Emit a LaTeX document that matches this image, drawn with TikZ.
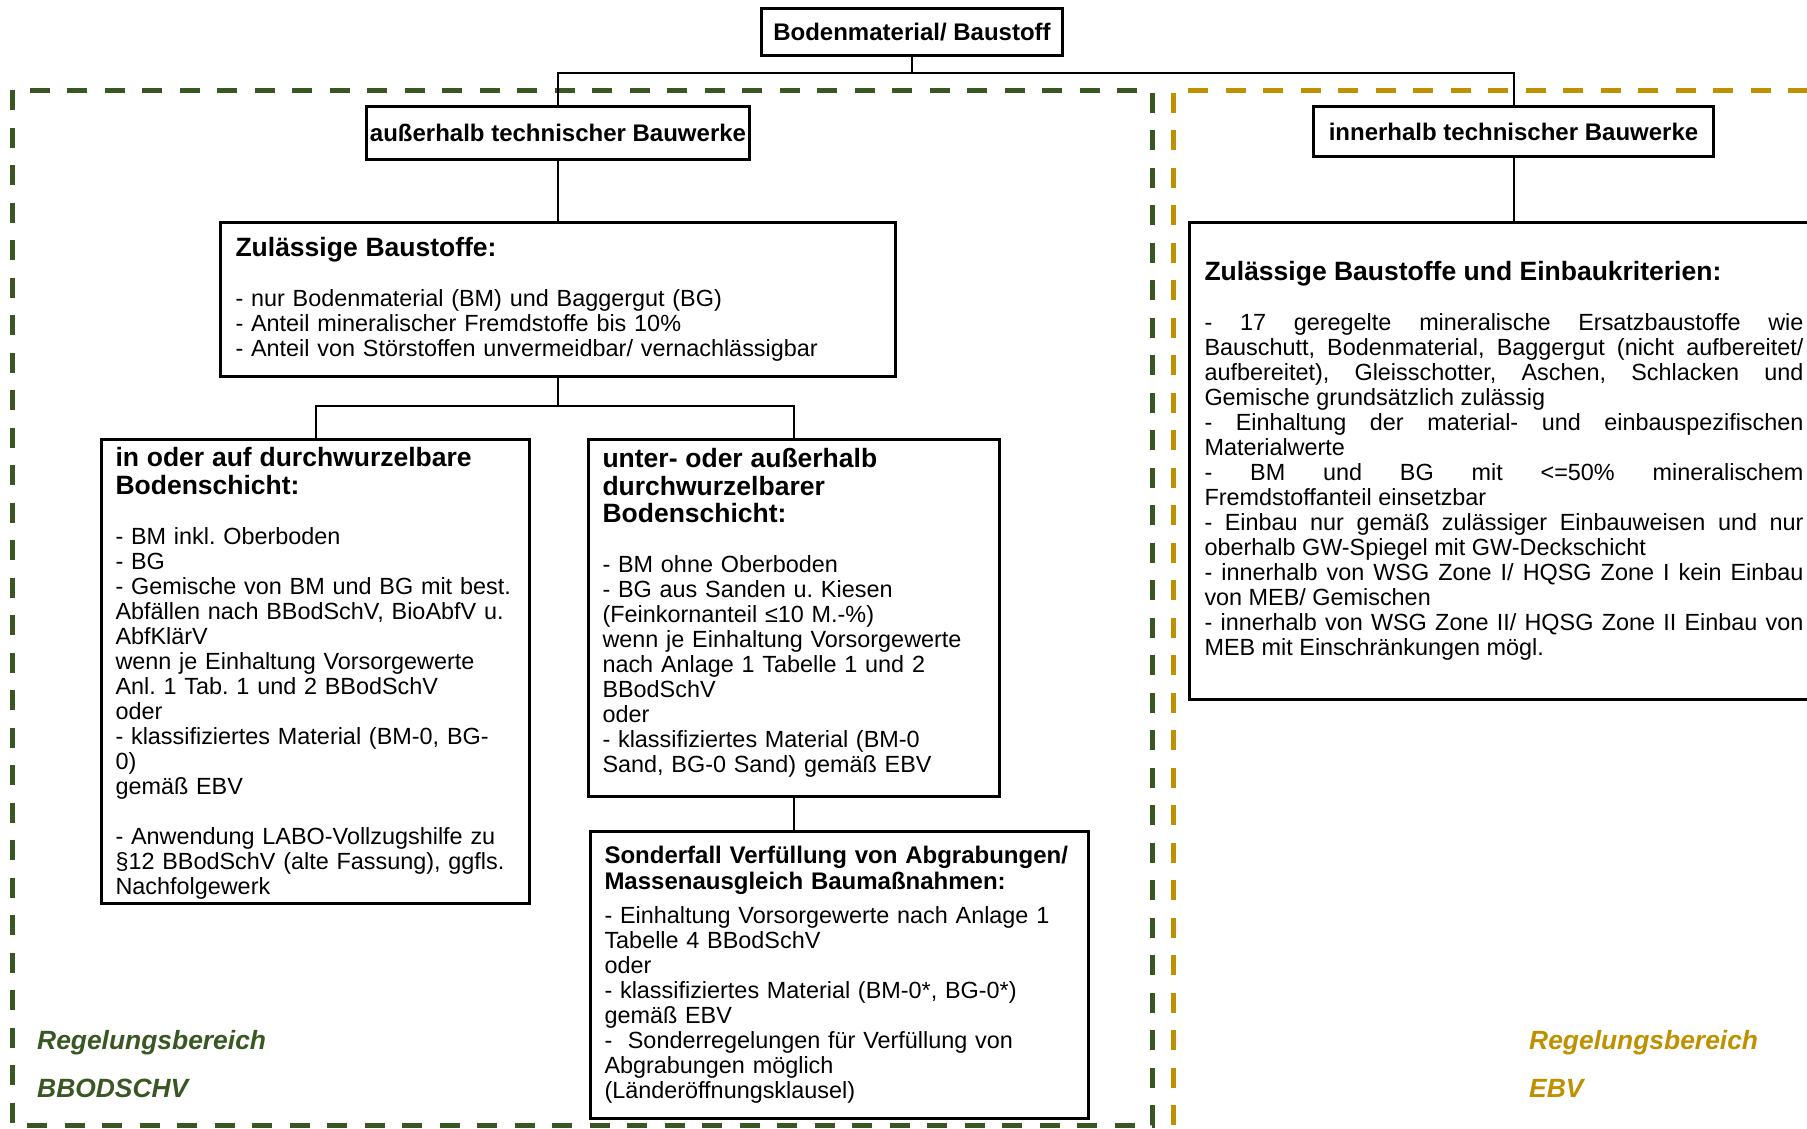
\documentclass[tikz,border=0pt]{standalone}
\usepackage{fontspec}
\setmainfont{Liberation Sans}
\usetikzlibrary{positioning}
\definecolor{bbgreen}{RGB}{56,87,35}
\definecolor{ebvgold}{RGB}{191,144,0}
\setlength\parindent{0pt}
\frenchspacing
\hyphenpenalty=10000
\exhyphenpenalty=10000
\newcommand\bodyfont{\fontsize{23.4}{25}\selectfont}
\newcommand\boxhead[1]{{\fontsize{26.5}{27.7}\selectfont\bfseries #1\par}}
\tikzset{
  box/.style={draw,line width=3pt,fill=white,align=left,inner xsep=14pt,inner ysep=0pt,anchor=north west,font=\bodyfont},
  headbox/.style={draw,line width=3pt,fill=white,inner sep=0pt,anchor=north west,font=\fontsize{24}{25}\selectfont\bfseries},
  link/.style={draw,line width=2pt},
  zone/.style={line width=5pt,dash pattern=on 20pt off 17.5pt},
  zonelabel/.style={anchor=west,inner sep=0pt,font=\fontsize{26.4}{28}\selectfont\bfseries\itshape},
}
\begin{document}
\begin{tikzpicture}[x=1pt,y=-1pt]
\useasboundingbox (0,0) rectangle (1807,1128);
% Regelungsbereiche
\draw[zone,bbgreen] (12,90) rectangle (1152,1125);
\draw[zone,ebvgold] (1173,1125) -- (1173,90) -- (1830,90);
\node[zonelabel,text=bbgreen] (bbtitle) at (37,1043) {Regelungsbereich};
\node[zonelabel,text=bbgreen] (bbname) at (37,1088) {BBODSCHV};
\node[zonelabel,text=ebvgold] (ebvtitle) at (1529,1043) {Regelungsbereich};
\node[zonelabel,text=ebvgold] (ebvname) at (1529,1088) {EBV};
% Kopf
\node[headbox,minimum width=301pt,minimum height=47pt] (top) at (760,7) {Bodenmaterial/ Baustoff};
\node[headbox,minimum width=383pt,minimum height=53pt] (aus) at (365,105) {außerhalb technischer Bauwerke};
\node[headbox,minimum width=400pt,minimum height=50pt] (inn) at (1312,105) {innerhalb technischer Bauwerke};
\coordinate (j1) at (912,73);
\draw[link] (top.south -| j1) -- (j1);
\draw[link] (aus.north) |- (j1) -| (inn.north);
% außerhalb
\node[box,inner xsep=15pt,text width=645pt,minimum height=154pt] (zul) at (219,221) {%
\boxhead{Zulässige Baustoffe:}\vspace{25pt}
- nur Bodenmaterial (BM) und Baggergut (BG)\\
- Anteil mineralischer Fremdstoffe bis 10\%\\
- Anteil von Störstoffen unvermeidbar/ vernachlässigbar};
\draw[link] (aus.south) -- (zul.north);
\node[box,text width=400pt,minimum height=464pt] (lbox) at (100,438) {%
\boxhead{in oder auf durchwurzelbare\\ Bodenschicht:}\vspace{25pt}
- BM inkl. Oberboden\\
- BG\\
- Gemische von BM und BG mit best.\\
Abfällen nach BBodSchV, BioAbfV u.\\
AbfKlärV\\
wenn je Einhaltung Vorsorgewerte\\
Anl. 1 Tab. 1 und 2 BBodSchV\\
oder\\
- klassifiziertes Material (BM-0, BG-\\
0)\\
gemäß EBV\\[25pt]
- Anwendung LABO-Vollzugshilfe zu\\
§12 BBodSchV (alte Fassung), ggfls.\\
Nachfolgewerk\par\vskip-4pt\hrule height0pt width0pt};
\node[box,text width=383pt,minimum height=357pt] (mbox) at (587,438) {%
\boxhead{unter- oder außerhalb\\ durchwurzelbarer\\ Bodenschicht:}\vspace{25pt}
- BM ohne Oberboden\\
- BG aus Sanden u. Kiesen\\
(Feinkornanteil ≤10 M.-\%)\\
wenn je Einhaltung Vorsorgewerte\\
nach Anlage 1 Tabelle 1 und 2\\
BBodSchV\\
oder\\
- klassifiziertes Material (BM-0\\
Sand, BG-0 Sand) gemäß EBV\par\vskip10pt\hrule height0pt width0pt};
\coordinate (j2) at (zul.south |- 0,406);
\draw[link] (zul.south) -- (j2);
\draw[link] (lbox.north) |- (j2) -| (mbox.north);
\node[box,text width=470pt,minimum height=287pt] (sbox) at (589,830) {%
{\fontsize{24}{25.4}\selectfont\bfseries Sonderfall Verfüllung von Abgrabungen/\\ Massenausgleich Baumaßnahmen:\par}\vspace{9.6pt}
- Einhaltung Vorsorgewerte nach Anlage 1\\
Tabelle 4 BBodSchV\\
oder\\
- klassifiziertes Material (BM-0*, BG-0*)\\
gemäß EBV\\
-~ Sonderregelungen für Verfüllung von\\
Abgrabungen möglich\\
(Länderöffnungsklausel)};
\draw[link] (mbox.south) -- (mbox.south |- sbox.north);
% innerhalb
\node[box,align=justify,inner xsep=15pt,text width=599pt,minimum height=477pt] (rbox) at (1188,221) {%
\boxhead{Zulässige Baustoffe und Einbaukriterien:}\vspace{25pt}
- 17 geregelte mineralische Ersatzbaustoffe wie\linebreak
Bauschutt, Bodenmaterial, Baggergut (nicht aufbereitet/\linebreak
aufbereitet), Gleisschotter, Aschen, Schlacken und\linebreak
Gemische grundsätzlich zulässig\par
- Einhaltung der material- und einbauspezifischen\linebreak
Materialwerte\par
- BM und BG mit <=50\% mineralischem\linebreak
Fremdstoffanteil einsetzbar\par
- Einbau nur gemäß zulässiger Einbauweisen und nur\linebreak
oberhalb GW-Spiegel mit GW-Deckschicht\par
- innerhalb von WSG Zone I/ HQSG Zone I kein Einbau\linebreak
von MEB/ Gemischen\par
- innerhalb von WSG Zone II/ HQSG Zone II Einbau von\linebreak
MEB mit Einschränkungen mögl.};
\draw[link] (inn.south) -- (inn.south |- rbox.north);
\end{tikzpicture}
\end{document}
